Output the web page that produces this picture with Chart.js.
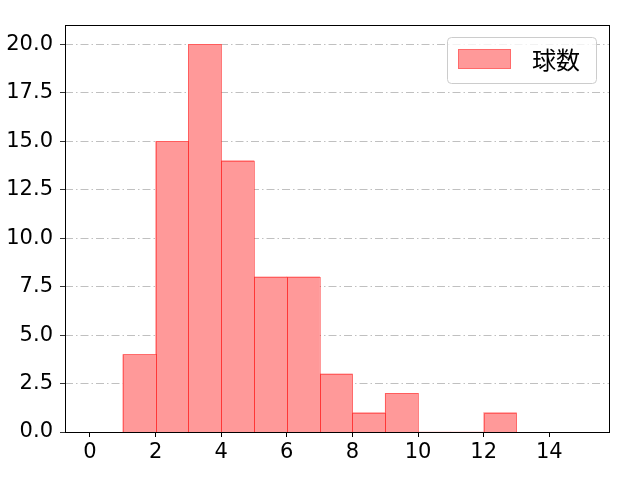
<!DOCTYPE html>
<html>
<head>
<meta charset="utf-8">
<script src="https://cdn.jsdelivr.net/npm/chart.js@4.4.1/dist/chart.umd.min.js"></script>
<style>
  html, body { margin: 0; padding: 0; background: #fff; }
  #wrap { width: 640px; height: 480px; }
</style>
</head>
<body>
<div id="wrap"><canvas id="histChart" width="640" height="480"></canvas></div>
<script>
/* datos del histograma */
const binStarts = [1, 2, 3, 4, 5, 6, 7, 8, 9, 10, 11, 12];
const counts = [4, 15, 20, 14, 8, 8, 3, 1, 2, 0, 0, 1];
const xTicks = [0, 2, 4, 6, 8, 10, 12, 14];
const yTicks = [0, 2.5, 5, 7.5, 10, 12.5, 15, 17.5, 20];
const seriesLabel = '球数';

const FONT = '"DejaVu Sans", sans-serif';
const CJK = '"Noto Sans CJK JP", sans-serif';

const puntos = binStarts.map((b, i) => ({ x: b + 0.5, y: counts[i] }));

// bordes de las barras, como en matplotlib (se suman en los bordes compartidos)
const barEdges = {
  id: 'barEdges',
  afterDatasetsDraw(chart) {
    const { ctx } = chart;
    const meta = chart.getDatasetMeta(0);
    ctx.save();
    ctx.strokeStyle = 'rgba(255,0,0,0.4)';
    ctx.lineWidth = 1;
    meta.data.forEach((bar, i) => {
      if (!counts[i]) return;
      const { x, y, base, width } = bar.getProps(['x', 'y', 'base', 'width'], true);
      const l = Math.round(x - width / 2) + 0.5;
      const r = Math.round(x + width / 2) + 0.5;
      const t = Math.round(y) + 0.5;
      const b = Math.round(base) + 0.5;
      ctx.strokeRect(l, t, r - l, b - t);
    });
    ctx.restore();
  }
};

// marco negro y leyenda dentro del area
const frameAndLegend = {
  id: 'frameAndLegend',
  afterDraw(chart) {
    const { ctx, chartArea: a } = chart;
    ctx.save();
    ctx.strokeStyle = '#000';
    ctx.lineWidth = 1;
    ctx.strokeRect(a.left + 0.5, a.top + 0.5, a.right - a.left, a.bottom - a.top);

    // leyenda
    const bx = 447, by = 37, bw = 149, bh = 46, r = 4;
    ctx.fillStyle = 'rgba(255,255,255,0.8)';
    ctx.strokeStyle = '#cccccc';
    ctx.beginPath();
    ctx.roundRect(bx + 0.5, by + 0.5, bw, bh, r);
    ctx.fill();
    ctx.stroke();
    ctx.fillStyle = '#ff9999';
    ctx.fillRect(458, 49, 53, 20);
    ctx.strokeStyle = 'rgba(255,0,0,0.3)';
    ctx.strokeRect(458.5, 49.5, 52, 19);
    ctx.fillStyle = '#000';
    ctx.font = '24px ' + CJK;
    ctx.textBaseline = 'middle';
    ctx.fillText(seriesLabel, 532, 60);
    ctx.restore();
  }
};

const ctx = document.getElementById('histChart').getContext('2d');
const histChart = new Chart(ctx, {
  type: 'bar',
  data: {
    datasets: [{
      label: seriesLabel,
      data: puntos,
      backgroundColor: '#ff9999',
      borderWidth: 0,
      barPercentage: 1,
      categoryPercentage: 1
    }]
  },
  options: {
    responsive: false,
    animation: false,
    layout: { padding: { top: 25, right: 31, left: 0, bottom: 0 } },
    scales: {
      x: {
        type: 'linear',
        offset: false,
        min: -0.76,
        max: 15.82,
        afterBuildTicks: (s) => { s.ticks = xTicks.map(v => ({ value: v })); },
        afterFit: (s) => { s.height = 48; },
        grid: {
          offset: false,
          drawOnChartArea: false,
          drawTicks: true,
          tickLength: 5,
          tickColor: '#000'
        },
        border: { display: false },
        ticks: {
          color: '#000',
          padding: 3,
          font: { family: FONT, size: 21 },
          callback: (v) => String(v)
        }
      },
      y: {
        min: 0,
        max: 21,
        afterBuildTicks: (s) => { s.ticks = yTicks.map(v => ({ value: v })); },
        afterFit: (s) => { s.width = 65; },
        grid: {
          color: '#b0b0b0',
          lineWidth: 0.8,
          tickColor: '#000',
          tickLength: 5,
          tickBorderDash: []
        },
        border: { display: false, dash: [8, 3, 1.5, 3] },
        ticks: {
          color: '#000',
          padding: 7,
          font: { family: FONT, size: 21 },
          callback: (v) => v.toFixed(1)
        }
      }
    },
    plugins: {
      legend: { display: false },
      tooltip: { enabled: false }
    }
  },
  plugins: [barEdges, frameAndLegend]
});
</script>
</body>
</html>
